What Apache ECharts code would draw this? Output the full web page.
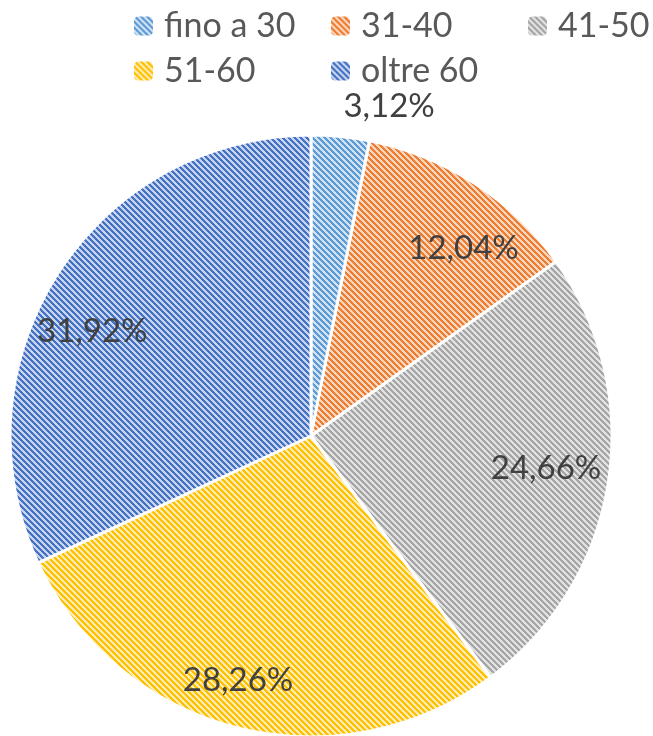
<!DOCTYPE html>
<html>
<head>
<meta charset="utf-8">
<script src="https://cdn.jsdelivr.net/npm/echarts@6/dist/echarts.min.js"></script>
<style>
  html, body { margin: 0; padding: 0; background: #fff; }
  #chart { width: 653px; height: 736px; }
</style>
</head>
<body>
<div id="chart"></div>
<script>
// dati
var categories = ['fino a 30', '31-40', '41-50', '51-60', 'oltre 60'];
var percents = [3.12, 12.04, 24.66, 28.26, 31.92];
var fgColors = ['#5B9BD5', '#ED7D31', '#A5A5A5', '#FFC000', '#4472C4'];
var bgColors = ['#D3E2F3', '#FBD6BE', '#E2E2E2', '#FFECB3', '#C9D4EE'];
// piccoli spostamenti delle etichette (come nel grafico Excel)
var labelNudge = [[0, 0], [20, 17], [-6, -6], [-13, 8], [-13, 27]];

// tratteggio diagonale tipo Excel
function hatch(fg, bg) {
  var size = 6;
  var c = document.createElement('canvas');
  c.width = size; c.height = size;
  var ctx = c.getContext('2d');
  for (var x = 0; x < size; x++) {
    for (var y = 0; y < size; y++) {
      ctx.fillStyle = ((x - y + size) % size) < 3 ? fg : bg;
      ctx.fillRect(x, y, 1, 1);
    }
  }
  return { image: c, repeat: 'repeat' };
}

var fmt = function (p) {
  return p.value.toFixed(2).replace('.', ',') + '%';
};

var mainData = categories.map(function (name, i) {
  return { name: name, value: percents[i], itemStyle: { color: hatch(fgColors[i], bgColors[i]) } };
});

// serie trasparente solo per le etichette (a circa 0.8 del raggio)
var labelData = categories.map(function (name, i) {
  var d = { name: name, value: percents[i], label: { offset: labelNudge[i] } };
  if (i === 0) {
    d.label = { position: 'outside', distanceToLabelLine: 0 };
    d.labelLine = { show: false, length: 30, length2: 0 };
  }
  return d;
});

function legendRow(names, top) {
  return {
    left: 127,
    top: top,
    width: 620,
    itemWidth: 21,
    itemHeight: 21,
    itemGap: 20,
    data: names,
    textStyle: {
      fontFamily: 'Lato',
      fontSize: 34,
      color: '#595959',
      width: 145,
      lineHeight: 30,
      padding: [0, 0, 0, 5]
    }
  };
}

var myChart = echarts.init(document.getElementById('chart'));
myChart.setOption({
  animation: false,
  legend: [
    legendRow(categories.slice(0, 3), 4),
    legendRow(categories.slice(3), 49)
  ],
  series: [
    {
      name: 'main',
      type: 'pie',
      center: [311, 436],
      radius: 301,
      startAngle: 90,
      clockwise: true,
      label: { show: false },
      labelLine: { show: false },
      itemStyle: { borderColor: '#fff', borderWidth: 3 },
      emphasis: { disabled: true },
      data: mainData
    },
    {
      name: 'labels',
      type: 'pie',
      center: [311, 436],
      radius: [181, 301],
      startAngle: 90,
      clockwise: true,
      silent: true,
      itemStyle: { color: 'rgba(0,0,0,0)' },
      label: {
        show: true,
        position: 'inside',
        formatter: fmt,
        fontFamily: 'Lato',
        fontSize: 33,
        color: '#404040'
      },
      emphasis: { disabled: true },
      data: labelData
    }
  ]
});
</script>
</body>
</html>
